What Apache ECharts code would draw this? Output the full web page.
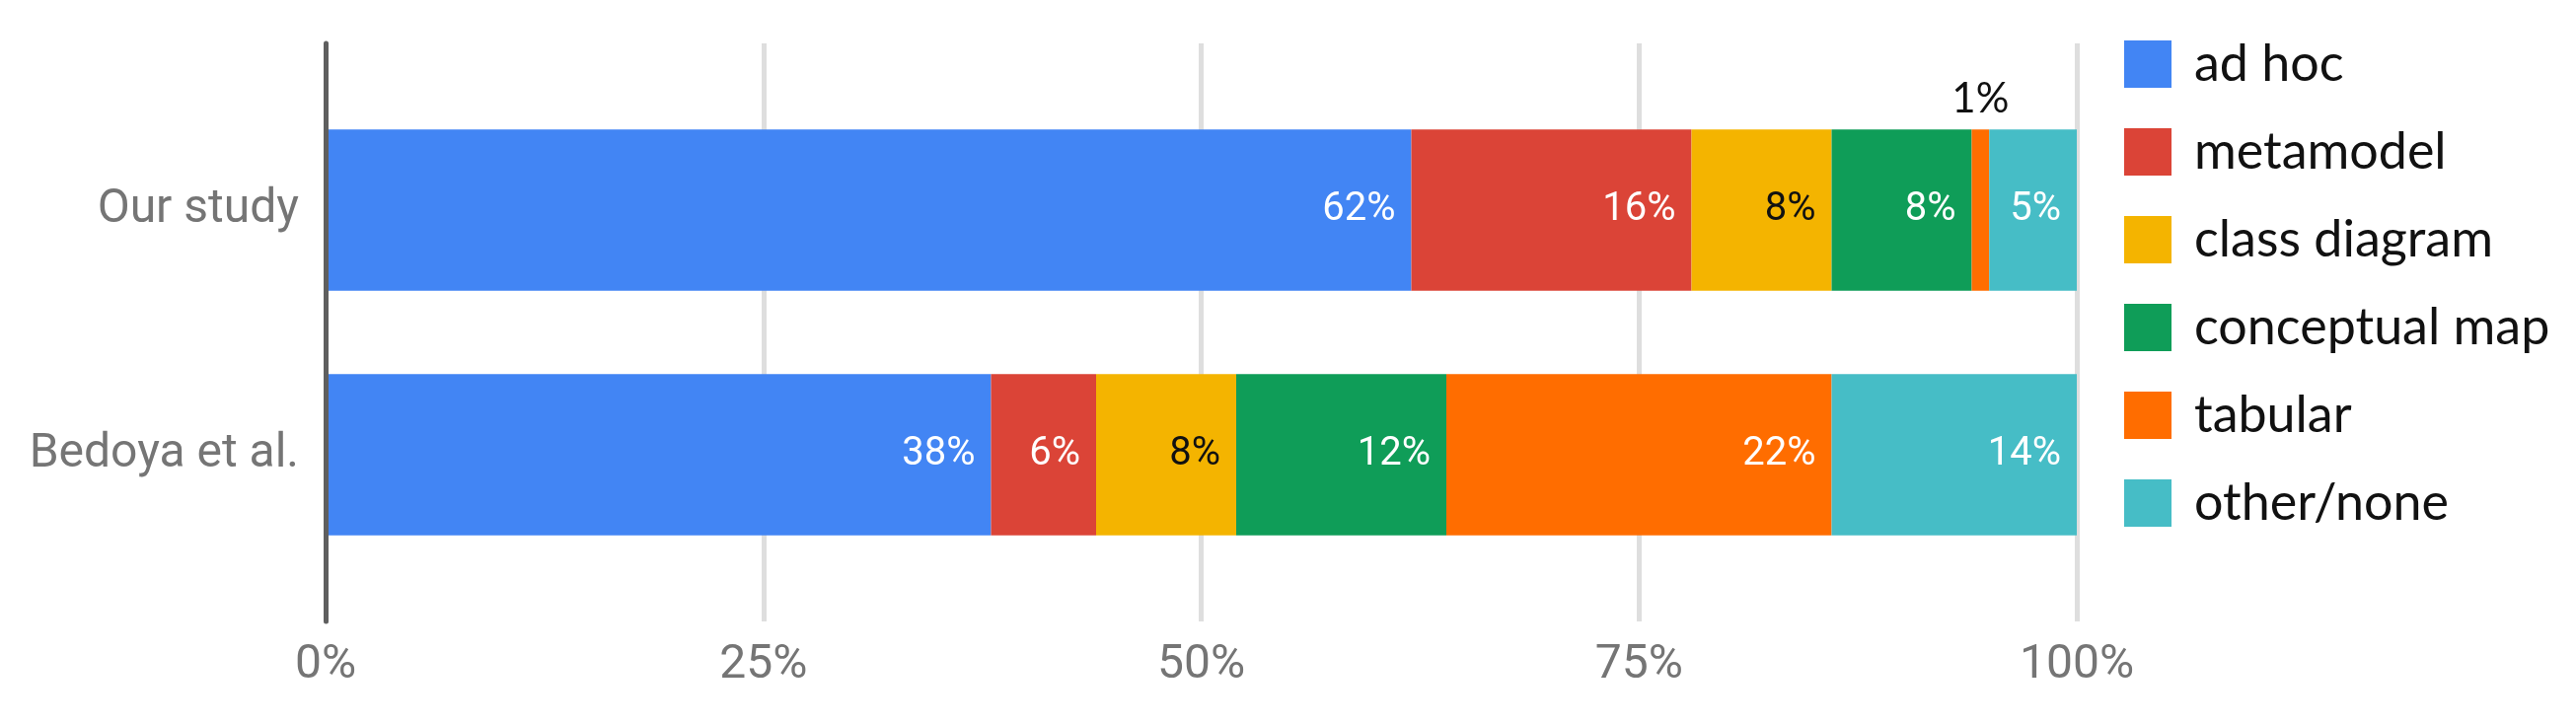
<!DOCTYPE html>
<html>
<head>
<meta charset="utf-8">
<script src="https://cdn.jsdelivr.net/npm/echarts@6/dist/echarts.min.js"></script>
<style>
  html, body { margin: 0; padding: 0; background: #fff; }
  #chart { width: 2611px; height: 735px; }
</style>
</head>
<body>
<div id="chart"></div>
<script>
// ---- data ----
const categories = ['Our study', 'Bedoya et al.'];
const seriesNames = ['ad hoc', 'metamodel', 'class diagram', 'conceptual map', 'tabular', 'other/none'];
const adHoc = [62, 38];
const metamodel = [16, 6];
const classDiagram = [8, 8];
const conceptualMap = [8, 12];
const tabular = [1, 22];
const otherNone = [5, 14];
const xTickValues = [0, 25, 50, 75, 100];

// ---- styling ----
const colors = ['#4285F4', '#DB4437', '#F4B400', '#0F9D58', '#FF6D00', '#46BDC6'];
const labelColors = ['#ffffff', '#ffffff', '#111111', '#ffffff', '#ffffff', '#ffffff'];
const allValues = [adHoc, metamodel, classDiagram, conceptualMap, tabular, otherNone];

const series = seriesNames.map((name, i) => ({
  name: name,
  type: 'bar',
  stack: 'total',
  xAxisIndex: 1,
  yAxisIndex: 1,
  barCategoryGap: '34%',
  itemStyle: { color: colors[i] },
  label: {
    show: true,
    position: 'insideRight',
    distance: 16,
    formatter: '{c}%',
    color: labelColors[i],
    fontFamily: 'Roboto',
    fontSize: 40
  },
  data: allValues[i].map(v => v < 3 ? {
    value: v,
    label: { position: 'top', distance: 10, color: '#111', fontFamily: 'Lato', fontSize: 42 }
  } : v)
}));

const chart = echarts.init(document.getElementById('chart'), null, { renderer: 'canvas' });
chart.setOption({
  animation: false,
  color: colors,
  legend: {
    data: seriesNames,
    orient: 'vertical',
    left: 2148,
    top: 34,
    itemWidth: 48,
    itemHeight: 48,
    itemGap: 37,
    icon: 'rect',
    selectedMode: false,
    textStyle: {
      fontFamily: 'Lato',
      fontSize: 52,
      color: '#111',
      lineHeight: 48,
      padding: [0, 0, 0, 18]
    }
  },
  grid: [
    { left: 330, right: 506, top: 44, bottom: 105 },
    { left: 330, right: 506, top: 89, bottom: 150 }
  ],
  xAxis: [
    {
      gridIndex: 0, type: 'value', min: 0, max: 100, interval: 25,
      axisLine: { show: false }, axisTick: { show: false },
      splitLine: { show: true, lineStyle: { color: '#dedede', width: 5 } },
      axisLabel: {
        formatter: v => xTickValues.includes(v) ? v + '%' : '',
        fontFamily: 'Roboto', fontSize: 48, color: '#757575', margin: 21
      }
    },
    {
      gridIndex: 1, type: 'value', min: 0, max: 100, show: false
    }
  ],
  yAxis: [
    {
      gridIndex: 0, type: 'category', inverse: true, data: categories, z: 10,
      axisLine: { show: true, lineStyle: { color: '#5f5f5f', width: 5 } },
      axisTick: { show: false }, axisLabel: { show: false }, splitLine: { show: false }
    },
    {
      gridIndex: 1, type: 'category', inverse: true, data: categories,
      axisLine: { show: false }, axisTick: { show: false },
      axisLabel: { fontFamily: 'Roboto', fontSize: 48, color: '#757575', margin: 27 }
    }
  ],
  series: series
});
</script>
</body>
</html>
